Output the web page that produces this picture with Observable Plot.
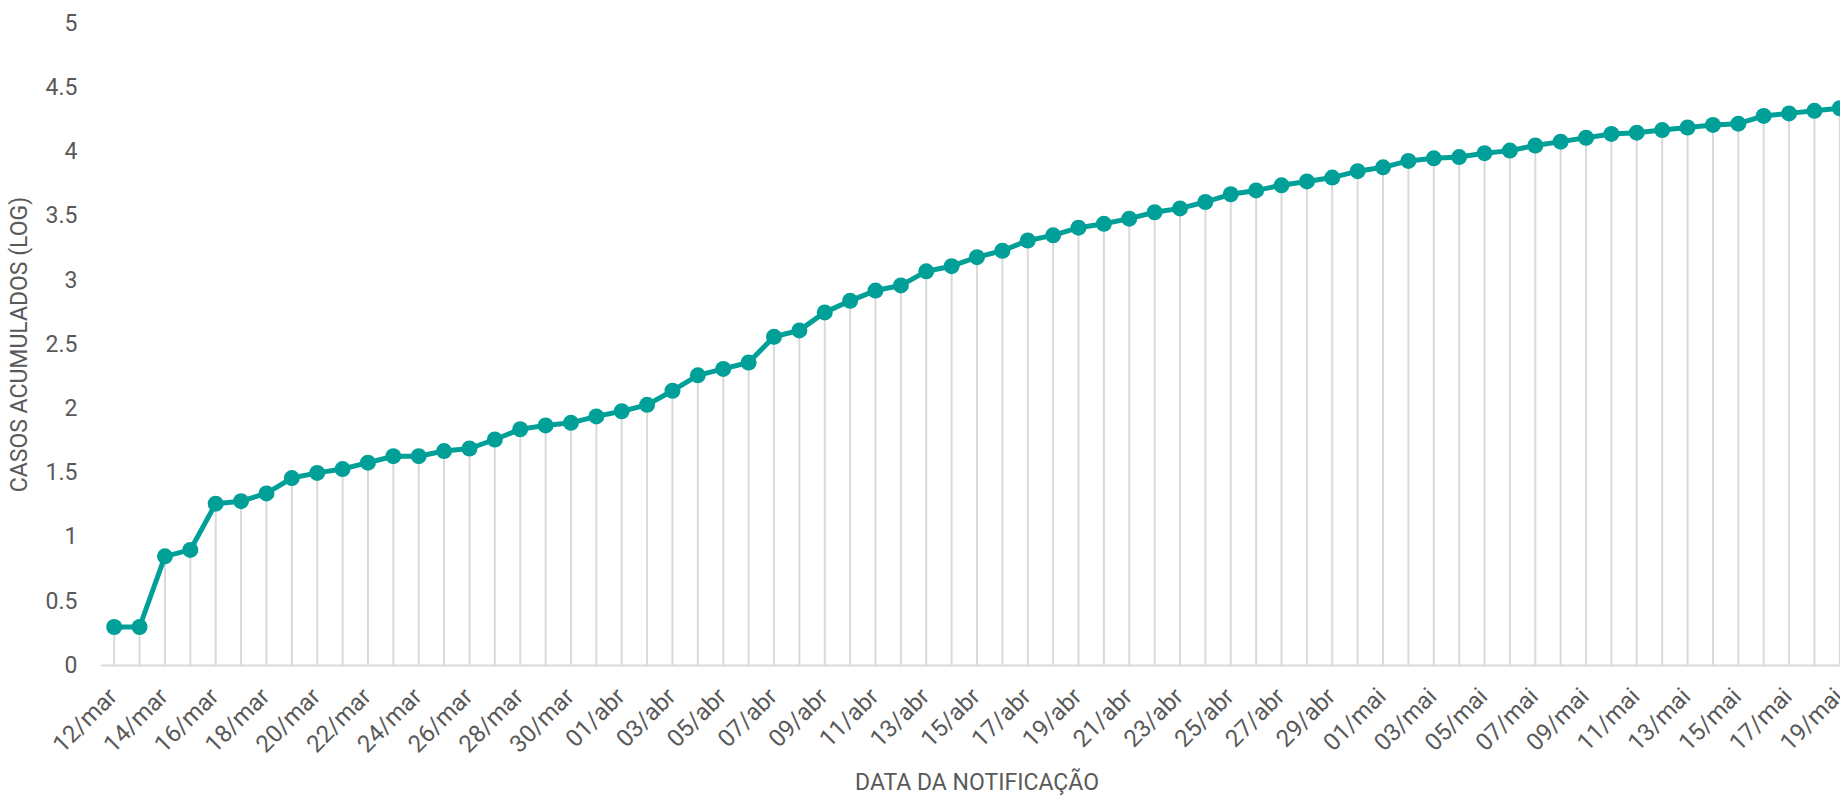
<!DOCTYPE html>
<html>
<head>
<meta charset="utf-8">
<script src="https://cdn.jsdelivr.net/npm/d3@7"></script>
<script src="https://cdn.jsdelivr.net/npm/@observablehq/plot@0.6"></script>
<style>
  html, body { margin: 0; padding: 0; background: #ffffff; overflow: hidden; width: 1840px; height: 796px; }
  #chart svg { display: block; max-width: none !important; }
</style>
</head>
<body>
<div id="chart"></div>
<script>
const dates = [
  "12/mar","13/mar","14/mar","15/mar","16/mar","17/mar","18/mar","19/mar","20/mar","21/mar",
  "22/mar","23/mar","24/mar","25/mar","26/mar","27/mar","28/mar","29/mar","30/mar","31/mar",
  "01/abr","02/abr","03/abr","04/abr","05/abr","06/abr","07/abr","08/abr","09/abr","10/abr",
  "11/abr","12/abr","13/abr","14/abr","15/abr","16/abr","17/abr","18/abr","19/abr","20/abr",
  "21/abr","22/abr","23/abr","24/abr","25/abr","26/abr","27/abr","28/abr","29/abr","30/abr",
  "01/mai","02/mai","03/mai","04/mai","05/mai","06/mai","07/mai","08/mai","09/mai","10/mai",
  "11/mai","12/mai","13/mai","14/mai","15/mai","16/mai","17/mai","18/mai","19/mai"
];
const logCases = [
  0.30,0.30,0.85,0.90,1.26,1.28,1.34,1.46,1.50,1.53,
  1.58,1.63,1.63,1.67,1.69,1.76,1.84,1.87,1.89,1.94,
  1.98,2.03,2.14,2.26,2.31,2.36,2.56,2.61,2.75,2.84,
  2.92,2.96,3.07,3.11,3.18,3.23,3.31,3.35,3.41,3.44,
  3.48,3.53,3.56,3.61,3.67,3.70,3.74,3.77,3.80,3.85,
  3.88,3.93,3.95,3.96,3.99,4.01,4.05,4.08,4.11,4.14,
  4.15,4.17,4.19,4.21,4.22,4.28,4.30,4.32,4.34
];
const yTicks = [0, 0.5, 1, 1.5, 2, 2.5, 3, 3.5, 4, 4.5, 5];
const xTickLabels = dates.filter((d, i) => i % 2 === 0);
const xTitle = "DATA DA NOTIFICAÇÃO";
const yTitle = "CASOS ACUMULADOS (LOG)";

const data = dates.map((d, i) => ({date: d, v: logCases[i]}));

const teal = "#00a098";
const grid = "#d9d9d9";
const ink = "#595959";

const chart = Plot.plot({
  width: 1852,
  height: 796,
  marginLeft: 101,
  marginRight: 0,
  marginTop: 23,
  marginBottom: 131,
  style: {fontFamily: "Roboto, sans-serif", fontSize: "23px", color: ink, background: "#ffffff"},
  x: {type: "point", domain: dates, padding: 0.5, align: 0.5, round: false},
  y: {domain: [0, 5]},
  marks: [
    Plot.ruleX(data, {x: "date", y1: 0, y2: "v", stroke: grid, strokeWidth: 2}),
    Plot.ruleY([0], {stroke: grid, strokeWidth: 2}),
    Plot.axisY({ticks: yTicks, tickSize: 0, tickPadding: 24, tickFormat: d => String(d), label: null, fontSize: 23}),
    Plot.axisX({ticks: xTickLabels, tickSize: 0, tickPadding: 27, dx: -1, tickRotate: -45, label: null, fontSize: 24, style: {letterSpacing: "0.6px"}}),
    Plot.lineY(data, {x: "date", y: "v", stroke: teal, strokeWidth: 5}),
    Plot.dot(data, {x: "date", y: "v", r: 8, fill: teal, stroke: "none"}),
    Plot.text([xTitle], {frameAnchor: "bottom", dy: 124, fontSize: 23, fill: ink, style: {letterSpacing: "0.7px"}}),
    Plot.text([yTitle], {frameAnchor: "left", textAnchor: "middle", rotate: -90, dx: -82, fontSize: 23, fill: ink, style: {letterSpacing: "1.2px"}})
  ]
});
document.getElementById("chart").appendChild(chart);
</script>
</body>
</html>
